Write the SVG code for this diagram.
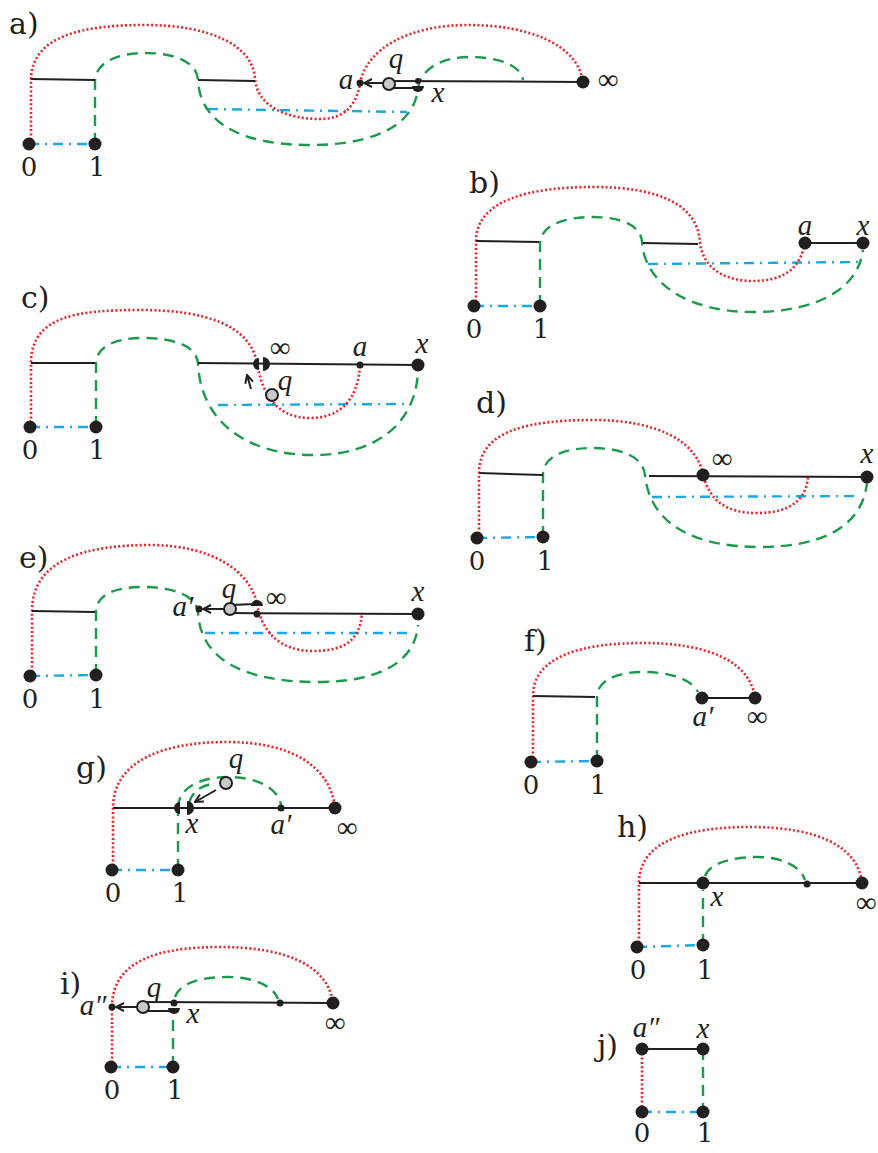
<svg xmlns="http://www.w3.org/2000/svg" width="878" height="1153" viewBox="0 0 878 1153">
<defs>
<style>
.red{fill:none;stroke:#ec2227;stroke-width:2.6;stroke-dasharray:2 2.3}
.grn{fill:none;stroke:#1c9a4c;stroke-width:2.4;stroke-dasharray:11 7}
.blu{fill:none;stroke:#1aa7e2;stroke-width:2.4;stroke-dasharray:10 6 2 6}
.blk{fill:none;stroke:#231f20;stroke-width:2}
.arw{fill:none;stroke:#231f20;stroke-width:2;marker-end:url(#chev)}
.nd{fill:#231f20}
.q{fill:#c9c9c9;stroke:#231f20;stroke-width:2}
.lab{font-family:"DejaVu Serif",serif;font-size:30px;fill:#231f20}
.num{font-family:"DejaVu Serif",serif;font-size:26px;fill:#231f20;text-anchor:middle}
.it{font-family:"Liberation Serif",serif;font-style:italic;font-size:29px;fill:#231f20;text-anchor:middle}
.inf{font-family:"Liberation Serif",serif;font-size:29px;fill:#231f20;text-anchor:middle}
</style>
<marker id="chev" viewBox="0 0 10 10" refX="9" refY="5" markerWidth="10" markerHeight="10" markerUnits="userSpaceOnUse" orient="auto">
<path d="M1,1 L9,5 L1,9" fill="none" stroke="#231f20" stroke-width="2"/>
</marker>
</defs>
<rect width="878" height="1153" fill="#ffffff"/>

<!-- Panel a -->
<g id="panel-a">
<text class="lab" x="9" y="34">a)</text>
<g id="a-connectors">
<path class="blu" d="M29,144 H95"/>
<path class="blu" d="M208,109 L407,112"/>
<path class="red" d="M31,144 V80 C31,35 85,25 145,25 C210,25 253,45 255,79 C257,105 285,119 320,119 C345,119 356,105 360,84 C366,48 410,25 468,25 C530,25 578,45 583,82"/>
<path class="grn" d="M95,144 V82 C95,62 118,53 145,53 C175,53 197,62 198,80 C200,125 245,145 310,145 C380,145 415,122 418,88 C421,68 443,57 470,57 C500,57 521,66 523,80"/>
<path class="blk" d="M31,79 L95,80 M198,80 L255,81 M389,81 L583,82 M389,88 L418,88"/>
<path class="arw" d="M383,83 L364,83"/>
</g>
<g id="a-n0"><circle class="nd" cx="29" cy="144" r="6.5"/><text class="num" x="29" y="176">0</text></g>
<g id="a-n1"><circle class="nd" cx="95" cy="144" r="6.5"/><text class="num" x="97" y="176">1</text></g>
<g id="a-na"><circle class="nd" cx="360" cy="83" r="3.5"/><text class="it" x="346" y="89">a</text></g>
<g id="a-nq"><circle class="q" cx="389" cy="84" r="6"/><text class="it" x="396" y="68">q</text></g>
<g id="a-nx"><circle class="nd" cx="418" cy="81" r="3"/><path class="nd" d="M412,86 A6,6 0 0 0 424,86 Z"/><text class="it" x="438" y="102">x</text></g>
<g id="a-ninf"><circle class="nd" cx="583" cy="82" r="6.5"/><text class="inf" x="608" y="89">∞</text></g>
</g>

<!-- Panel b -->
<g id="panel-b">
<text class="lab" x="469" y="193">b)</text>
<g id="b-connectors">
<path class="blu" d="M474,306 H540"/>
<path class="blu" d="M648,264 L860,262"/>
<path class="red" d="M476,306 V241 C476,200 530,187 593,187 C660,187 698,205 700,243 C703,268 725,281 752,281 C785,281 800,268 805,243"/>
<path class="grn" d="M540,306 V244 C540,225 565,217 593,217 C620,217 641,225 642,242 C645,285 690,312 753,312 C815,312 858,290 863,250"/>
<path class="blk" d="M476,241 L539,242 M643,243 L698,244 M805,243 L863,243"/>
</g>
<g id="b-n0"><circle class="nd" cx="474" cy="306" r="6.5"/><text class="num" x="474" y="338">0</text></g>
<g id="b-n1"><circle class="nd" cx="540" cy="306" r="6.5"/><text class="num" x="541" y="338">1</text></g>
<g id="b-na"><circle class="nd" cx="805" cy="243" r="6.5"/><text class="it" x="805" y="235">a</text></g>
<g id="b-nx"><circle class="nd" cx="863" cy="243" r="6.5"/><text class="it" x="863" y="235">x</text></g>
</g>

<!-- Panel c -->
<g id="panel-c">
<text class="lab" x="21" y="308">c)</text>
<g id="c-connectors">
<path class="blu" d="M30,427 H96"/>
<path class="blu" d="M218,405 L407,404"/>
<path class="red" d="M31,427 V363 C31,315 80,310 140,310 C205,310 250,325 257,363 C262,392 275,418 310,418 C340,418 358,400 360,365"/>
<path class="grn" d="M96,427 V364 C96,345 118,338 143,338 C172,338 196,345 198,363 C200,420 245,455 313,455 C375,455 415,425 418,372"/>
<path class="blk" d="M31,363 L95,363 M198,363 L418,365"/>
<path class="arw" d="M251,389 L247,375"/>
</g>
<g id="c-n0"><circle class="nd" cx="30" cy="427" r="6.5"/><text class="num" x="30" y="459">0</text></g>
<g id="c-n1"><circle class="nd" cx="96" cy="427" r="6.5"/><text class="num" x="97" y="459">1</text></g>
<g id="c-ninf"><path class="nd" d="M259,358 A6,6 0 0 0 259,370 Z"/><path class="nd" d="M263,357 A7,7 0 0 1 263,371 Z"/><text class="inf" x="280" y="357">∞</text></g>
<g id="c-nq"><circle class="q" cx="272" cy="395" r="6"/><text class="it" x="285" y="390">q</text></g>
<g id="c-na"><circle class="nd" cx="360" cy="365" r="3.5"/><text class="it" x="360" y="356">a</text></g>
<g id="c-nx"><circle class="nd" cx="418" cy="365" r="6.5"/><text class="it" x="422" y="353">x</text></g>
</g>

<!-- Panel d -->
<g id="panel-d">
<text class="lab" x="476" y="413">d)</text>
<g id="d-connectors">
<path class="blu" d="M477,538 L543,537"/>
<path class="blu" d="M652,497 L860,496"/>
<path class="red" d="M479,538 V473 C479,430 530,420 593,420 C655,420 697,440 703,475 C710,500 725,513 757,513 C790,513 806,500 808,477"/>
<path class="grn" d="M543,537 V475 C543,455 567,448 593,448 C620,448 643,456 645,475 C650,525 695,547 760,547 C820,547 862,528 867,483"/>
<path class="blk" d="M479,473 L543,475 M649,476 L867,477"/>
</g>
<g id="d-n0"><circle class="nd" cx="477" cy="538" r="6.5"/><text class="num" x="477" y="570">0</text></g>
<g id="d-n1"><circle class="nd" cx="543" cy="537" r="6.5"/><text class="num" x="545" y="570">1</text></g>
<g id="d-ninf"><circle class="nd" cx="703" cy="475" r="6.5"/><text class="inf" x="722" y="468">∞</text></g>
<g id="d-nx"><circle class="nd" cx="867" cy="477" r="6.5"/><text class="it" x="867" y="463">x</text></g>
</g>

<!-- Panel e -->
<g id="panel-e">
<text class="lab" x="19" y="568">e)</text>
<g id="e-connectors">
<path class="blu" d="M30,676 L96,675"/>
<path class="blu" d="M205,633 L413,633"/>
<path class="red" d="M32,676 V611 C32,560 85,545 150,545 C210,545 250,570 257,604 C262,632 280,651 313,651 C345,651 360,640 362,613"/>
<path class="grn" d="M96,675 V612 C96,593 118,587 143,587 C172,587 196,595 198,612 C200,660 245,682 317,682 C380,682 415,662 418,625"/>
<path class="blk" d="M32,611 L95,612 M230,613 L418,614 M230,605 L257,604"/>
<path class="arw" d="M224,609 L203,609"/>
</g>
<g id="e-n0"><circle class="nd" cx="30" cy="676" r="6.5"/><text class="num" x="30" y="708">0</text></g>
<g id="e-n1"><circle class="nd" cx="96" cy="675" r="6.5"/><text class="num" x="97" y="708">1</text></g>
<g id="e-na"><circle class="nd" cx="199" cy="609" r="3.5"/><text class="it" x="183" y="616">a′</text></g>
<g id="e-nq"><circle class="q" cx="230" cy="609" r="6"/><text class="it" x="229" y="598">q</text></g>
<g id="e-ninf"><path class="nd" d="M251,606 A6,6 0 0 1 263,606 Z"/><circle class="nd" cx="257" cy="614" r="3.5"/><text class="inf" x="276" y="607">∞</text></g>
<g id="e-nx"><circle class="nd" cx="418" cy="614" r="6.5"/><text class="it" x="418" y="601">x</text></g>
</g>

<!-- Panel f -->
<g id="panel-f">
<text class="lab" x="524" y="651">f)</text>
<g id="f-connectors">
<path class="blu" d="M531,762 L597,761"/>
<path class="red" d="M533,762 V696 C533,655 585,643 643,643 C705,643 750,660 755,698"/>
<path class="grn" d="M597,761 V697 C597,680 618,672 643,672 C668,672 690,678 698,692"/>
<path class="blk" d="M533,696 L595,697 M702,698 L755,698"/>
</g>
<g id="f-n0"><circle class="nd" cx="531" cy="762" r="6.5"/><text class="num" x="531" y="794">0</text></g>
<g id="f-n1"><circle class="nd" cx="597" cy="761" r="6.5"/><text class="num" x="598" y="794">1</text></g>
<g id="f-na"><circle class="nd" cx="702" cy="698" r="6.5"/><text class="it" x="703" y="726">a′</text></g>
<g id="f-ninf"><circle class="nd" cx="755" cy="698" r="6.5"/><text class="inf" x="757" y="726">∞</text></g>
</g>

<!-- Panel g -->
<g id="panel-g">
<text class="lab" x="76" y="778">g)</text>
<g id="g-connectors">
<path class="blu" d="M112,870 H178"/>
<path class="red" d="M113,870 V808 C113,760 165,742 227,742 C290,742 330,765 335,808"/>
<path class="grn" d="M178,870 V812 M178,808 C178,788 200,777 228,777 C255,777 278,787 281,805 M189,803 C192,792 200,786 212,784"/>
<path class="blk" d="M113,808 L335,808"/>
<path class="arw" d="M216,790 L195,802"/>
</g>
<g id="g-n0"><circle class="nd" cx="112" cy="870" r="6.5"/><text class="num" x="113" y="902">0</text></g>
<g id="g-n1"><circle class="nd" cx="178" cy="870" r="6.5"/><text class="num" x="180" y="902">1</text></g>
<g id="g-nx"><path class="nd" d="M180,802 A6,6 0 0 0 180,814 Z"/><path class="nd" d="M187,801 A7,7 0 0 1 187,815 Z"/><text class="it" x="192" y="833">x</text></g>
<g id="g-nq"><circle class="q" cx="226" cy="783" r="6"/><text class="it" x="236" y="768">q</text></g>
<g id="g-na"><circle class="nd" cx="281" cy="808" r="3.5"/><text class="it" x="281" y="834">a′</text></g>
<g id="g-ninf"><circle class="nd" cx="335" cy="808" r="6.5"/><text class="inf" x="347" y="837">∞</text></g>
</g>

<!-- Panel h -->
<g id="panel-h">
<text class="lab" x="617" y="837">h)</text>
<g id="h-connectors">
<path class="blu" d="M637,947 L703,945"/>
<path class="red" d="M639,947 V883 C639,840 690,827 750,827 C815,827 858,845 862,883"/>
<path class="grn" d="M703,945 V890 M705,876 C710,862 735,857 757,857 C780,857 800,865 805,880"/>
<path class="blk" d="M639,883 L862,883"/>
</g>
<g id="h-n0"><circle class="nd" cx="637" cy="947" r="6.5"/><text class="num" x="638" y="979">0</text></g>
<g id="h-n1"><circle class="nd" cx="703" cy="945" r="6.5"/><text class="num" x="705" y="979">1</text></g>
<g id="h-nx"><circle class="nd" cx="703" cy="883" r="6.5"/><text class="it" x="717" y="906">x</text></g>
<g id="h-na"><circle class="nd" cx="807" cy="884" r="3.5"/></g>
<g id="h-ninf"><circle class="nd" cx="862" cy="883" r="6.5"/><text class="inf" x="866" y="912">∞</text></g>
</g>

<!-- Panel i -->
<g id="panel-i">
<text class="lab" x="60" y="994">i)</text>
<g id="i-connectors">
<path class="blu" d="M111,1067 H173"/>
<path class="red" d="M112,1067 V1007 C112,960 160,947 220,947 C285,947 328,965 333,1003"/>
<path class="grn" d="M173,1067 V1014 M175,997 C180,982 203,977 227,977 C252,977 273,985 278,999"/>
<path class="blk" d="M143,1002 L333,1003 M143,1011 L174,1011"/>
<path class="arw" d="M137,1007 L116,1007"/>
</g>
<g id="i-n0"><circle class="nd" cx="111" cy="1067" r="6.5"/><text class="num" x="112" y="1099">0</text></g>
<g id="i-n1"><circle class="nd" cx="173" cy="1067" r="6.5"/><text class="num" x="175" y="1099">1</text></g>
<g id="i-na"><circle class="nd" cx="112" cy="1007" r="3.5"/><text class="it" x="93" y="1015">a″</text></g>
<g id="i-nq"><circle class="q" cx="143" cy="1007" r="6"/><text class="it" x="154" y="997">q</text></g>
<g id="i-nx"><circle class="nd" cx="174" cy="1003" r="3.5"/><path class="nd" d="M168,1008 A6,6 0 0 0 180,1008 Z"/><text class="it" x="193" y="1023">x</text></g>
<g id="i-nm"><circle class="nd" cx="280" cy="1003" r="3.5"/></g>
<g id="i-ninf"><circle class="nd" cx="333" cy="1003" r="6.5"/><text class="inf" x="335" y="1032">∞</text></g>
</g>

<!-- Panel j -->
<g id="panel-j">
<text class="lab" x="597" y="1056">j)</text>
<g id="j-connectors">
<path class="blu" d="M642,1112 H703"/>
<path class="red" d="M642,1049 V1112"/>
<path class="grn" d="M703,1049 V1112"/>
<path class="blk" d="M642,1049 H703"/>
</g>
<g id="j-na"><circle class="nd" cx="642" cy="1049" r="6.5"/><text class="it" x="646" y="1037">a″</text></g>
<g id="j-nx"><circle class="nd" cx="703" cy="1049" r="6.5"/><text class="it" x="703" y="1038">x</text></g>
<g id="j-n0"><circle class="nd" cx="642" cy="1112" r="6.5"/><text class="num" x="642" y="1142">0</text></g>
<g id="j-n1"><circle class="nd" cx="703" cy="1112" r="6.5"/><text class="num" x="705" y="1142">1</text></g>
</g>
</svg>
